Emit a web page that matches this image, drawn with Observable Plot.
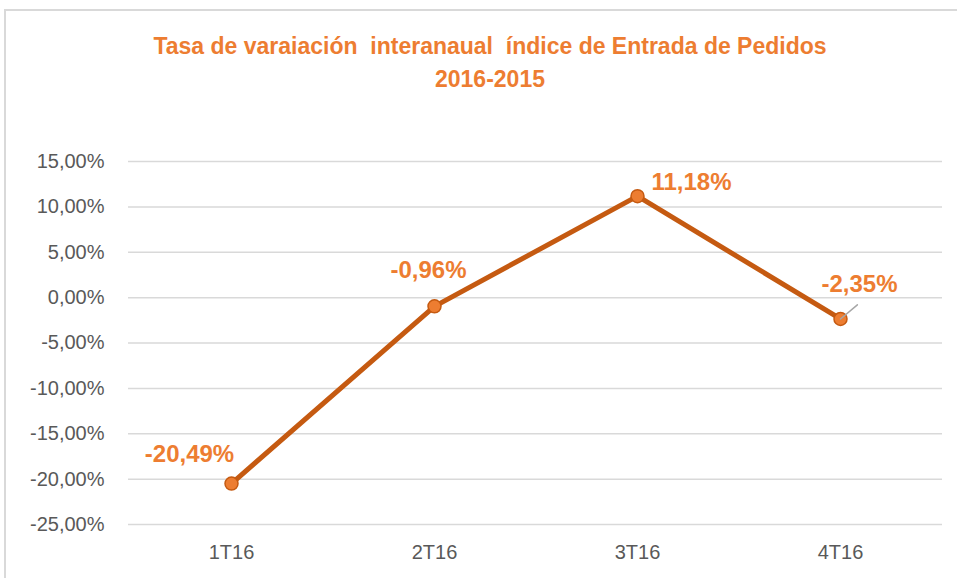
<!DOCTYPE html>
<html>
<head>
<meta charset="utf-8">
<script src="https://cdn.jsdelivr.net/npm/d3@7"></script>
<script src="https://cdn.jsdelivr.net/npm/@observablehq/plot@0.6"></script>
<style>
  html, body { margin: 0; padding: 0; background: #fff; }
  #wrap { position: relative; width: 957px; height: 578px; overflow: hidden; }
  #frame { position: absolute; left: 4px; top: 9px; width: 1000px; height: 1000px;
           border-left: 2px solid #d9d9d9; border-top: 2px solid #d9d9d9; }
  #title { position: absolute; left: 0; top: 30px; width: 980px; text-align: center;
           font-family: "Liberation Sans", Arial, sans-serif; font-weight: bold; font-size: 23px;
           line-height: 33px; color: #ED7D31; }
  #chart { position: absolute; left: 0; top: 0; }
</style>
</head>
<body>
<div id="wrap">
  <div id="frame"></div>
  <div id="chart"></div>
  <div id="title">Tasa de varaiación&nbsp; interanaual&nbsp; índice de Entrada de Pedidos<br>2016-2015</div>
</div>
<script>
const categories = ["1T16", "2T16", "3T16", "4T16"];
const values = [-20.49, -0.96, 11.18, -2.35];
const yTicks = [-25, -20, -15, -10, -5, 0, 5, 10, 15];

const data = categories.map((c, i) => ({cat: c, v: values[i]}));
const fmt = v => v.toFixed(2).replace(".", ",") + "%";
const orange = "#ED7D31";
const dark = "#C55A11";
const font = "Liberation Sans, Arial, sans-serif";

const labelMark = (cat, opts) => Plot.text(data.filter(d => d.cat === cat), {
  x: "cat", y: "v", text: d => fmt(d.v), fill: orange, fontWeight: "bold",
  fontSize: 24, fontFamily: font, ...opts
});

const leader = {
  draw(context, l) { context.moveTo(0, 0); context.lineTo(0, -l); }
};

const chart = Plot.plot({
  width: 957,
  height: 578,
  marginLeft: 128,
  marginRight: 15,
  marginTop: 161,
  marginBottom: 54,
  style: {fontFamily: font, background: "transparent", overflow: "visible"},
  x: {type: "point", domain: categories, padding: 0.5, label: null},
  y: {domain: [-25, 15], label: null},
  marks: [
    Plot.gridY(yTicks, {stroke: "#d9d9d9", strokeOpacity: 1, strokeWidth: 1.5}),
    Plot.axisY(yTicks, {tickSize: 0, tickPadding: 24, tickFormat: fmt, fontSize: 20,
                        fill: "#595959", label: null}),
    Plot.axisX(categories, {tickSize: 0, tickPadding: 20, fontSize: 20, fill: "#595959",
                            label: null}),
    Plot.line(data, {x: "cat", y: "v", stroke: dark, strokeWidth: 5, strokeLinejoin: "round"}),
    Plot.dot(data, {x: "cat", y: "v", r: 6.5, fill: orange, stroke: dark, strokeWidth: 1.5}),
    Plot.vector(data.filter(d => d.cat === "4T16"), {x: "cat", y: "v", length: 22, rotate: 50,
                anchor: "start", shape: leader, stroke: "#a6a6a6", strokeWidth: 1.5}),
    labelMark("1T16", {dx: -42, dy: -29}),
    labelMark("2T16", {dx: -6, dy: -36}),
    labelMark("3T16", {dx: 54, dy: -14}),
    labelMark("4T16", {dx: 19, dy: -35})
  ]
});
document.getElementById("chart").appendChild(chart);
</script>
</body>
</html>
